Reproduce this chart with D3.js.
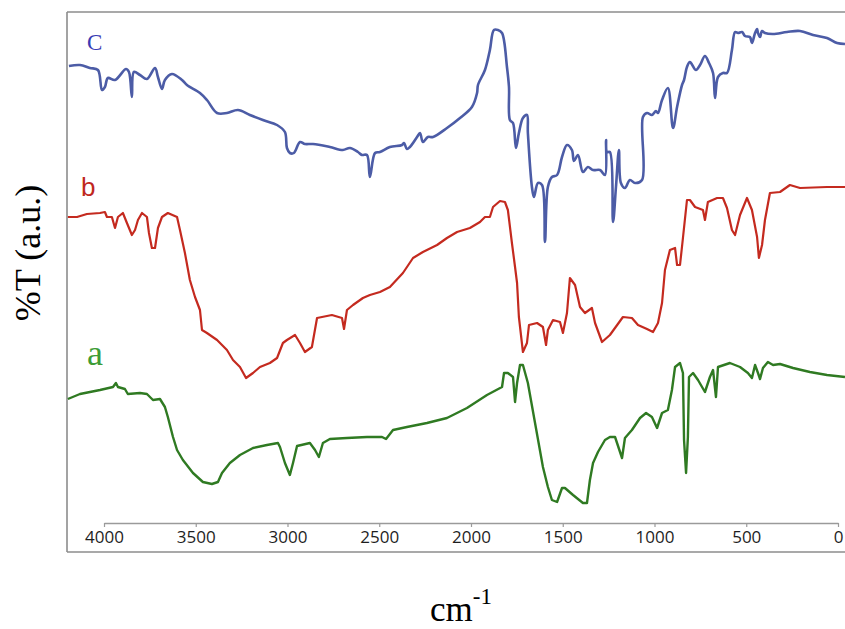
<!DOCTYPE html>
<html>
<head>
<meta charset="utf-8">
<script src="https://cdn.jsdelivr.net/npm/d3@7"></script>
<style>
  html, body { margin: 0; padding: 0; background: #fff; }
  svg { display: block; }
</style>
</head>
<body>
<svg id="chart" width="845" height="629"></svg>
<script>
// FTIR spectra: wavenumber (cm-1) vs transmittance (arbitrary units, stacked)
const xTicks = [4000, 3500, 3000, 2500, 2000, 1500, 1000, 500, 0];

const waveC = [4191,4131,4077,4033,4011,3995,3979,3940,3880,3864,3848,3837,3804,3766,3722,3706,3684,3668,3630,3575,3548,3477,3439,3384,3330,3270,3205,3134,3057,3014,3003,2987,2965,2932,2905,2861,2769,2698,2660,2616,2594,2567,2551,2523,2496,2442,2376,2365,2349,2333,2294,2278,2262,2235,2207,2131,2060,1995,1967,1962,1924,1897,1875,1853,1831,1804,1793,1788,1771,1755,1739,1717,1695,1690,1668,1657,1635,1613,1597,1581,1559,1531,1504,1477,1450,1439,1417,1390,1363,1335,1297,1270,1264,1259,1243,1226,1210,1194,1183,1161,1134,1106,1068,1063,1041,1014,992,981,959,927,899,877,850,839,823,807,774,752,725,703,681,670,654,627,605,578,561,545,523,507,480,469,452,441,436,425,414,398,354,278,207,136,60,5,-38];
const transC = [457,458,455,453,433,436,445,443,454,451,426,451,448,444,455,446,434,443,449,443,438,430,423,410,410,413,408,403,398,391,375,370,370,381,379,379,376,373,375,371,368,368,346,370,371,376,378,380,374,376,386,390,381,386,386,395,405,416,430,438,453,473,493,493,490,456,436,403,400,375,390,405,408,390,336,326,340,338,281,336,346,348,366,378,373,362,368,351,356,353,353,348,383,371,371,301,336,373,340,335,343,340,343,406,410,408,412,410,423,435,395,416,438,443,456,461,453,458,467,460,450,425,446,450,450,473,491,490,491,487,486,480,490,494,490,486,492,490,489,491,492,488,485,480,479];

const waveB = [4197,4147,4093,4022,3995,3984,3957,3940,3924,3897,3875,3848,3831,3815,3793,3766,3755,3739,3722,3706,3684,3652,3602,3586,3559,3532,3504,3477,3466,3439,3384,3330,3297,3259,3226,3188,3150,3096,3057,3025,3003,2959,2932,2905,2867,2839,2812,2758,2703,2692,2676,2643,2589,2551,2496,2442,2371,2316,2262,2185,2131,2076,2006,1951,1924,1897,1880,1842,1815,1799,1777,1760,1749,1739,1717,1695,1684,1640,1608,1591,1581,1553,1515,1499,1477,1461,1433,1406,1379,1341,1324,1286,1243,1172,1123,1090,1041,1008,981,959,943,916,888,877,861,845,823,807,779,736,725,709,659,627,605,578,561,534,496,469,441,431,414,398,371,316,262,207,60,-38];
const transB = [306,306,309,310,311,306,306,295,306,310,300,288,293,303,310,306,290,275,275,295,306,310,306,293,270,243,226,213,193,190,183,173,163,156,145,150,156,160,165,180,183,188,180,171,176,205,206,208,205,194,213,218,225,228,231,236,250,265,271,278,285,291,295,301,306,306,316,322,321,313,280,256,240,206,171,180,198,200,196,178,193,203,201,190,210,245,238,216,210,215,200,181,188,206,205,198,194,191,200,220,253,273,275,258,258,285,323,323,316,313,303,321,325,325,315,293,288,308,325,313,286,265,278,303,330,331,338,335,336,336];

const waveA = [4197,4131,4022,3951,3935,3924,3886,3870,3804,3766,3733,3695,3668,3652,3624,3602,3570,3515,3461,3412,3379,3357,3314,3259,3188,3112,3052,3041,3014,2987,2970,2948,2878,2850,2829,2807,2769,2676,2567,2485,2463,2425,2349,2240,2131,2022,1913,1831,1820,1799,1771,1760,1749,1733,1717,1690,1651,1608,1581,1559,1531,1504,1488,1444,1390,1368,1352,1335,1308,1270,1243,1215,1177,1161,1123,1079,1046,1014,986,959,927,905,888,861,845,839,828,818,812,790,763,725,698,681,665,654,589,534,491,469,452,436,425,409,382,354,316,245,153,60,-38];
const transA = [124,129,133,136,140,136,134,129,130,129,123,124,116,106,86,73,63,50,41,39,41,50,60,68,75,78,80,76,60,48,60,77,80,73,66,80,84,85,86,86,84,93,96,100,105,115,128,136,150,150,146,121,140,158,158,140,100,56,36,23,21,35,35,28,20,20,43,60,71,83,86,86,65,85,93,105,110,106,95,110,113,133,156,160,150,83,50,86,146,150,143,131,146,153,126,156,160,156,150,145,158,150,144,155,161,158,159,155,151,148,146];

const seriesNames = ["a", "b", "C"];
const seriesColors = ["#2f7a22", "#c42a1f", "#4c5ca6"];
const labelColors = ["#3d9c36", "#c0281e", "#3a3cb4"];

const svg = d3.select("#chart");

const x = d3.scaleLinear().domain([4000, 0]).range([104, 838]);
const y = d3.scaleLinear().domain([0, 511]).range([523, 12]);

// plot frame
const frame = svg.append("g").attr("stroke", "#8c8c8c").attr("stroke-width", 1.6).attr("fill", "none");
frame.append("line").attr("x1", 67).attr("x2", 67).attr("y1", 12).attr("y2", 552);
frame.append("line").attr("x1", 67).attr("x2", 845).attr("y1", 12).attr("y2", 12);
frame.append("line").attr("x1", 67).attr("x2", 845).attr("y1", 552).attr("y2", 552);

// wavenumber axis
const axis = d3.axisBottom(x).tickValues(xTicks).tickSize(4).tickSizeOuter(0).tickPadding(4).tickFormat(d3.format("d"));
const gx = svg.append("g").attr("transform", "translate(0,523)").call(axis);
gx.select(".domain").attr("stroke", "#9a9a9a").attr("stroke-width", 1.4);
gx.selectAll(".tick line").attr("stroke", "#9a9a9a").attr("stroke-width", 1.2);
gx.selectAll(".tick text")
  .attr("font-family", "'Open Sans', sans-serif")
  .attr("font-size", 17)
  .attr("fill", "#1e1e1e");

// spectra: the blue trace is smooth, the other two are drawn point to point
const lineStraight = d3.line().x(d => x(d[0])).y(d => y(d[1]));
const lineSmooth = d3.line().x(d => x(d[0])).y(d => y(d[1])).curve(d3.curveCatmullRom.alpha(0.5));
const allSeries = [
  d3.zip(waveA, transA),
  d3.zip(waveB, transB),
  d3.zip(waveC, transC)
];
const widths = [2.4, 2.2, 2.6];
allSeries.forEach((pts, i) => {
  svg.append("path")
    .datum(pts)
    .attr("fill", "none")
    .attr("stroke", seriesColors[i])
    .attr("stroke-width", widths[i])
    .attr("stroke-linejoin", "round")
    .attr("d", i === 2 ? lineSmooth : lineStraight);
});

// curve labels
svg.append("text").attr("x", 87).attr("y", 365)
  .attr("font-family", "'Liberation Serif', serif").attr("font-size", 36)
  .attr("fill", labelColors[0]).text(seriesNames[0]);
svg.append("text").attr("x", 81).attr("y", 196)
  .attr("font-family", "'Liberation Sans', Arial, sans-serif").attr("font-size", 26)
  .attr("fill", labelColors[1]).text(seriesNames[1]);
svg.append("text").attr("x", 87).attr("y", 50)
  .attr("font-family", "'Liberation Serif', serif").attr("font-size", 23)
  .attr("fill", labelColors[2]).text(seriesNames[2]);

// axis titles
svg.append("text")
  .attr("transform", "translate(40,253) rotate(-90)")
  .attr("text-anchor", "middle")
  .attr("font-family", "'Liberation Serif', 'Times New Roman', serif")
  .attr("font-size", 36)
  .attr("fill", "#000")
  .text("%T (a.u.)");

const xt = svg.append("text")
  .attr("x", 430).attr("y", 621)
  .attr("font-family", "'Liberation Serif', 'Times New Roman', serif")
  .attr("font-size", 35)
  .attr("fill", "#000");
xt.append("tspan").text("cm");
xt.append("tspan").attr("font-size", 23).attr("dy", -17).text("-1");
</script>
</body>
</html>
